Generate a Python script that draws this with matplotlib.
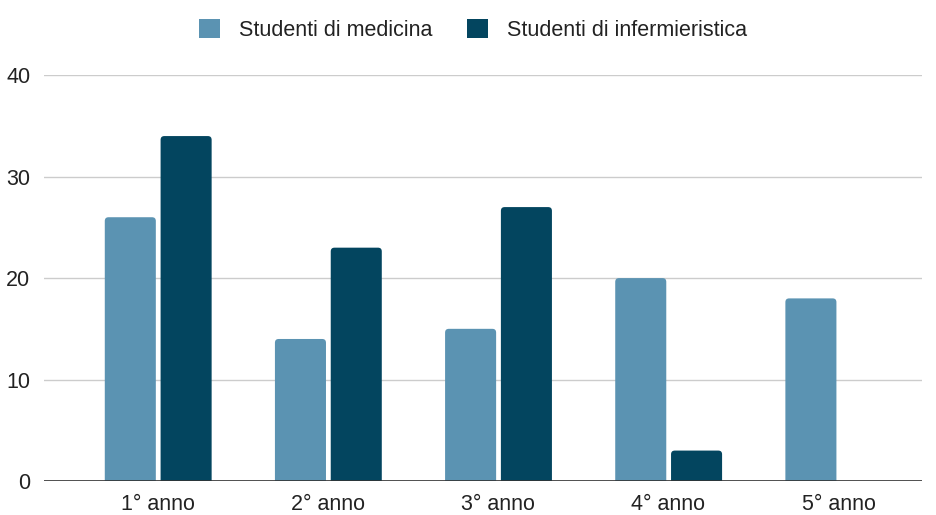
import matplotlib.pyplot as plt
from matplotlib.patches import FancyBboxPatch, Patch
import numpy as np

anni = ['1° anno', '2° anno', '3° anno', '4° anno', '5° anno']
medicina = [26, 14, 15, 20, 18]
infermieristica = [34, 23, 27, 3, 0]

col_med = '#5b93b2'
col_inf = '#03455f'

plt.rcParams['font.family'] = ['Liberation Sans', 'DejaVu Sans']

fig = plt.figure(figsize=(9.37, 5.15), dpi=100)
ax = fig.add_axes([0.047, 0.066, 0.937, 0.788])
ax.set_xlim(-0.67, 4.49)
ax.set_ylim(0, 40)

x = np.arange(len(anni))
w = 0.30
b1 = ax.bar(x - 0.163, medicina, w, color=col_med, zorder=3)
b2 = ax.bar(x + 0.165, infermieristica, w, color=col_inf, zorder=3)

# angoli arrotondati in cima alle barre
asp = (40 / 406) / (5.16 / 878)
for bars in (b1, b2):
    for r in bars:
        h = r.get_height()
        r.set_visible(False)
        if h <= 0:
            continue
        p = FancyBboxPatch((r.get_x(), -0.5), r.get_width(), h + 0.5,
                           boxstyle='round,pad=0,rounding_size=0.022',
                           mutation_aspect=asp, facecolor=r.get_facecolor(),
                           edgecolor='none', zorder=3)
        ax.add_patch(p)

ax.set_yticks([0, 10, 20, 30, 40])
ax.set_xticks(x)
ax.set_xticklabels(anni)
ax.tick_params(length=0, labelsize=15.5, labelcolor='#222222')
ax.tick_params(axis='y', pad=10)
ax.tick_params(axis='x', pad=9)

ax.grid(axis='y', color='#cccccc', linewidth=1, zorder=0)
ax.axhline(0, color='#333333', linewidth=1.2, zorder=4)
for s in ax.spines.values():
    s.set_visible(False)

handles = [Patch(facecolor=col_med, label='Studenti di medicina'),
           Patch(facecolor=col_inf, label='Studenti di infermieristica')]
fig.legend(handles=handles, loc='upper center', bbox_to_anchor=(0.505, 1.0), ncol=2,
           frameon=False, fontsize=15.5, handlelength=0.95, handleheight=0.95,
           columnspacing=1.6, handletextpad=0.9, labelcolor='#222222')

fig.savefig('out.png', dpi=100)
